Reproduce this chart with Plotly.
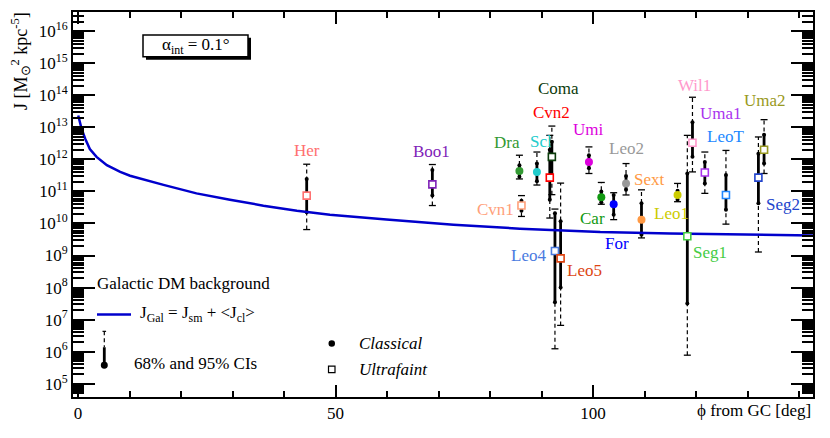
import numpy as np
import plotly.graph_objects as go

# Galactic DM background J_Gal(phi)
curve_phi = [0.05, 0.7, 1.4, 2.3, 3.6, 5.6, 8.2, 10.1, 16.6, 23.0, 29.5, 36.0,
             42.5, 48.9, 59.9, 72.9, 85.8, 101.4, 115.0, 125.0, 136.3, 142.7]
curve_J = [2.34e13, 8.9e12, 4.4e12, 2.1e12, 1.2e12, 6.6e11, 4.1e11, 3.1e11, 1.6e11,
           8.7e10, 5.5e10, 3.6e10, 2.5e10, 1.86e10, 1.32e10, 9.1e9, 6.9e9, 5.4e9,
           4.9e9, 4.6e9, 4.3e9, 4.2e9]

# dwarf spheroidals (log10 J): median, 68% and 95% intervals
dwarf_names = ["Her", "Boo1", "Dra", "Cvn1", "Scl", "Cvn2", "Coma", "Leo4", "Leo5",
               "Umi", "Car", "For", "Leo2", "Sext", "Leo1", "Seg1", "Wil1", "Uma1",
               "LeoT", "Seg2", "Uma2"]
dwarf_phi = [44.4, 68.8, 85.7, 86.1, 89.1, 91.6, 92.0, 92.6, 93.7,
             99.2, 101.6, 104.0, 106.4, 109.4, 116.4, 118.3, 119.3, 121.7,
             125.8, 132.1, 133.2]
dwarf_logJ = [10.87, 11.22, 11.64, 10.56, 11.61, 11.43, 12.08, 9.14, 8.91,
              11.92, 10.82, 10.60, 11.25, 10.12, 10.89, 9.60, 12.52, 11.59,
              10.89, 11.43, 12.30]
dwarf_lo68 = [10.35, 10.87, 11.46, 10.40, 11.32, 10.74, 11.50, 7.54, 8.00,
              11.72, 10.66, 10.27, 11.05, 9.65, 10.74, 7.50, 12.08, 11.25,
              10.43, 10.63, 11.87]
dwarf_hi68 = [11.39, 11.67, 11.82, 10.71, 11.87, 12.30, 12.55, 10.32, 10.07,
              12.13, 11.00, 10.89, 11.48, 10.63, 11.02, 11.56, 13.16, 11.92,
              11.51, 12.18, 12.77]
dwarf_lo95 = [9.81, 10.56, 11.39, 10.22, 11.20, 10.17, 10.90, 6.09, 6.82,
              11.56, 10.60, 10.12, 10.89, 9.55, 10.68, 5.89, 11.61, 10.94,
              9.98, 9.11, 11.56]
dwarf_hi95 = [11.85, 11.84, 12.13, 10.87, 12.23, 12.75, 13.04, 10.45, 11.26,
              12.39, 11.28, 10.96, 11.87, 11.05, 11.25, 12.75, 13.94, 12.23,
              12.28, 12.70, 13.24]
dwarf_classical = [False, False, True, False, True, False, False, False, False,
                   True, True, True, True, True, True, False, False, False,
                   False, False, False]
dwarf_colors = ["#ff7070", "#7f22b8", "#339933", "#ffa07a", "#22cccc", "#ff0000",
                "#0b3b0b", "#4a7adf", "#dd4411", "#dd00dd", "#119911", "#0000ff",
                "#999999", "#ff9944", "#cccc00", "#44cc44", "#ff99cc", "#aa33ee",
                "#2288ff", "#2244cc", "#999922"]

FONT = "Liberation Serif"
# page body has an 8px margin, so the figure is a bit smaller than the window
W, H = 822, 430
# plot frame in window pixels: x 73..813, y 10..397
L, R, T, B = 65, 17, 2, 41


def px(x):
    return (x - 73) / 740


def py(y):
    return (397 - y) / 387


def segs(lo, hi):
    xs, ys = [], []
    for x, a, b in zip(dwarf_phi, lo, hi):
        xs += [x, x, None]
        ys += [10 ** a, 10 ** b, None]
    return xs, ys


fig = go.Figure()

# 95% CI, dashed
x95, y95 = segs(dwarf_lo95, dwarf_hi95)
fig.add_trace(go.Scatter(x=x95, y=y95, mode="lines",
                         line=dict(color="black", width=1.2, dash="4px,3px")))
caps95 = np.array(dwarf_lo95 + dwarf_hi95)
fig.add_trace(go.Scatter(x=dwarf_phi * 2, y=10 ** caps95, mode="markers",
                         marker=dict(symbol="line-ew", size=5,
                                     line=dict(color="black", width=1.3))))

# 68% CI, solid
x68, y68 = segs(dwarf_lo68, dwarf_hi68)
fig.add_trace(go.Scatter(x=x68, y=y68, mode="lines",
                         line=dict(color="black", width=2.8)))
caps68 = np.array(dwarf_lo68 + dwarf_hi68)
fig.add_trace(go.Scatter(x=dwarf_phi * 2, y=10 ** caps68, mode="markers",
                         marker=dict(symbol="circle", size=4, color="black")))

# background curve
fig.add_trace(go.Scatter(x=curve_phi, y=curve_J, mode="lines",
                         line=dict(color="#0000cc", width=2.5)))

# markers
cl = [i for i, c in enumerate(dwarf_classical) if c]
uf = [i for i, c in enumerate(dwarf_classical) if not c]
fig.add_trace(go.Scatter(
    x=[dwarf_phi[i] for i in cl], y=[10 ** dwarf_logJ[i] for i in cl], mode="markers",
    marker=dict(symbol="circle", size=8, color=[dwarf_colors[i] for i in cl],
                line=dict(width=0))))
fig.add_trace(go.Scatter(
    x=[dwarf_phi[i] for i in uf], y=[10 ** dwarf_logJ[i] for i in uf], mode="markers",
    marker=dict(symbol="square", size=7, color="white",
                line=dict(width=1.6, color=[dwarf_colors[i] for i in uf]))))

# dwarf labels: phi, log10 J, anchor
label_pos = {
    "Her": (44.4, 12.28, "center"), "Boo1": (68.7, 12.26, "center"),
    "Dra": (83.2, 12.52, "center"), "Scl": (89.9, 12.55, "center"),
    "Cvn1": (85.0, 10.43, "right"), "Coma": (93.3, 14.21, "center"),
    "Cvn2": (92.0, 13.47, "center"), "Umi": (99.2, 12.92, "center"),
    "Leo2": (106.4, 12.33, "center"), "Sext": (107.5, 11.36, "left"),
    "Car": (99.9, 10.15, "center"), "For": (104.6, 9.39, "center"),
    "Leo1": (111.4, 10.32, "left"), "Leo4": (91.3, 9.01, "right"),
    "Leo5": (94.6, 8.52, "left"), "Wil1": (119.7, 14.32, "center"),
    "Uma1": (120.3, 13.42, "left"), "LeoT": (121.7, 12.70, "left"),
    "Seg1": (119.1, 9.11, "left"), "Seg2": (133.1, 10.58, "left"),
    "Uma2": (128.9, 13.83, "left"),
}
ann = []
for name, col in zip(dwarf_names, dwarf_colors):
    x, y, xa = label_pos[name]
    ann.append(dict(x=x, y=y, xref="x", yref="y", text=name, showarrow=False,
                    xanchor=xa, yanchor="middle",
                    font=dict(family=FONT, size=17, color=col)))

# legend-like texts
extra = [
    dict(x=px(95), y=py(283), text="Galactic DM background", xanchor="left"),
    dict(x=px(138), y=py(314),
         text="J<sub>Gal</sub> = J<sub>sm</sub> + &lt;J<sub>cl</sub>&gt;", xanchor="left"),
    dict(x=px(132), y=py(363), text="68% and 95% CIs", xanchor="left"),
    dict(x=px(357), y=py(343), text="<i>Classical</i>", xanchor="left"),
    dict(x=px(357), y=py(369), text="<i>Ultrafaint</i>", xanchor="left"),
    dict(x=px(196), y=py(44), text="α<sub>int</sub> = 0.1°", xanchor="center"),
    dict(x=px(20), y=py(8), textangle=-90, xanchor="center", yanchor="top",
         text="J [M<sub>⊙</sub><sup>2</sup> kpc<sup>-5</sup>]", size=18),
    dict(x=px(813), y=py(411), text="ϕ from GC [deg]", xanchor="right"),
]
for a in extra:
    a.update(xref="paper", yref="paper", showarrow=False)
    a.setdefault("yanchor", "middle")
    a["font"] = dict(family=FONT, size=a.pop("size", 17), color="black")
ann += extra

P = dict(xref="paper", yref="paper")
shapes = [
    # alpha box with shadow
    dict(type="rect", x0=px(146), x1=px(251), y0=py(36), y1=py(58),
         fillcolor="black", line=dict(width=0), **P),
    dict(type="rect", x0=px(143), x1=px(248), y0=py(33), y1=py(55),
         fillcolor="white", line=dict(color="black", width=1.5), **P),
    # legend samples
    dict(type="line", x0=px(97), x1=px(131), y0=py(314), y1=py(314),
         line=dict(color="#0000cc", width=2.5), **P),
    dict(type="line", x0=px(104.3), x1=px(104.3), y0=py(331), y1=py(347),
         line=dict(color="black", width=1.2, dash="4px,3px"), **P),
    dict(type="line", x0=px(102.5), x1=px(106.1), y0=py(331), y1=py(331),
         line=dict(color="black", width=1.2), **P),
    dict(type="line", x0=px(104.3), x1=px(104.3), y0=py(347), y1=py(365),
         line=dict(color="black", width=2.8), **P),
    dict(type="circle", x0=px(100.8), x1=px(107.8), y0=py(361.5), y1=py(368.5),
         fillcolor="black", line=dict(width=0), **P),
    dict(type="circle", x0=px(328.5), x1=px(335), y0=py(340), y1=py(346.5),
         fillcolor="black", line=dict(width=0), **P),
    dict(type="rect", x0=px(328.5), x1=px(335), y0=py(366), y1=py(372.5),
         fillcolor="white", line=dict(color="black", width=1.2), **P),
]

minor_y = [m * 10.0 ** k for k in range(4, 17) for m in range(2, 10)]
fig.update_layout(
    width=W, height=H, margin=dict(l=L, r=R, t=T, b=B),
    paper_bgcolor="white", plot_bgcolor="white", showlegend=False,
    font=dict(family=FONT, size=17, color="black"),
    annotations=ann, shapes=shapes,
    xaxis=dict(range=[-0.97, 142.7], showgrid=False, zeroline=False,
               showline=True, linecolor="black", linewidth=2, mirror="ticks",
               ticks="inside", ticklen=12, tickwidth=2, tickcolor="black",
               tickvals=[0, 50, 100], ticktext=["0", "50", "100"],
               minor=dict(dtick=10, tick0=0, ticks="inside", ticklen=6,
                          tickwidth=1.5, tickcolor="black", showgrid=False),
               tickfont=dict(size=17, family=FONT)),
    yaxis=dict(type="log", range=[4.585, 16.6], showgrid=False, zeroline=False,
               showline=True, linecolor="black", linewidth=2, mirror="ticks",
               ticks="inside", ticklen=22, tickwidth=2, tickcolor="black",
               tickvals=[10.0 ** k for k in range(5, 17)],
               ticktext=["10<sup>%d</sup>" % k for k in range(5, 17)],
               minor=dict(tickvals=minor_y, ticks="inside", ticklen=11,
                          tickwidth=1.5, tickcolor="black", showgrid=False),
               tickfont=dict(size=17, family=FONT)),
)

fig.write_html("out.html")
